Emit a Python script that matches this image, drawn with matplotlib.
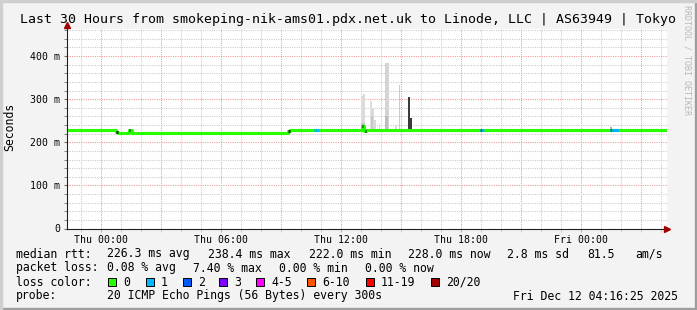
import matplotlib
matplotlib.use("Agg")
import matplotlib.pyplot as plt
from matplotlib.patches import Rectangle
import numpy as np

# time axis in hours relative to Thu 00:00
t_start = -1.675
t_end = 28.325

# median rtt (ms), step changes at these hours
median_hours = [-1.675, 0.75, 0.85, 1.4, 1.55, 9.35, 9.45, 13.05, 13.15, 13.25]
median_ms = [229, 224, 222, 228, 222, 226, 229, 238, 226, 229]

# short stretches where the median is drawn dark
dark_spans = [(0.75, 0.85), (1.4, 1.45), (9.35, 9.45), (13.05, 13.12), (13.2, 13.25)]

# loss colour stretches: (start, end, loss colour index)
loss_spans = [(10.65, 10.9, 1), (18.95, 19.05, 2), (19.05, 19.15, 1),
              (25.45, 25.55, 2), (25.55, 25.9, 1)]

# smoke: (start, end, top ms, shade)
smoke_start = [13.0, 13.1, 13.0, 13.45, 13.55, 13.65, 13.5, 13.9, 14.2, 14.2, 14.7, 14.9, 15.35, 15.35, 25.45]
smoke_end = [13.1, 13.2, 13.2, 13.55, 13.65, 13.75, 13.6, 13.95, 14.4, 14.35, 14.8, 14.96, 15.45, 15.55, 25.55]
smoke_top = [308, 312, 245, 295, 277, 252, 262, 243, 384, 262, 240, 332, 304, 257, 235]
smoke_shade = ['#dedede', '#dadada', '#c4c4c4', '#dedede', '#d8d8d8', '#d8d8d8', '#c8c8c8', '#d8d8d8',
               '#d4d4d4', '#bcbcbc', '#d8d8d8', '#cccccc', '#3a3a3a', '#3a3a3a', '#b0b0b0']
smoke_floor = 225

loss_labels = ['0', '1', '2', '3', '4-5', '6-10', '11-19', '20/20']
loss_colors = ['#26ff00', '#00b8ff', '#0059ff', '#7e00ff', '#ff00ff', '#ff5500', '#ff0000', '#a10000']

xtick_hours = [0, 6, 12, 18, 24]
xtick_labels = ['Thu 00:00', 'Thu 06:00', 'Thu 12:00', 'Thu 18:00', 'Fri 00:00']
ytick_ms = [0, 100, 200, 300, 400]
ytick_labels = ['0', '100 m', '200 m', '300 m', '400 m']

W, H = 697, 310
mono = 'DejaVu Sans Mono'
red_grid = '#f09898'
gray_grid = '#c8c8c8'

fig = plt.figure(figsize=(W / 100, H / 100), dpi=100, facecolor='#f3f3f3')

# 3d border
fig.patches.append(Rectangle((0, 0), 1, 2 / H, transform=fig.transFigure, color='#9e9e9e', zorder=0))
fig.patches.append(Rectangle((1 - 2 / W, 0), 2 / W, 1, transform=fig.transFigure, color='#9e9e9e', zorder=0))
fig.patches.append(Rectangle((0, 1 - 2 / H), 1, 2 / H, transform=fig.transFigure, color='#cfcfcf', zorder=0))
fig.patches.append(Rectangle((0, 0), 2 / W, 1, transform=fig.transFigure, color='#cfcfcf', zorder=0))

ax = fig.add_axes([67 / W, (H - 228.5) / H, 600 / W, 200 / H])
ax.set_facecolor('white')
ax.set_xlim(t_start, t_end)
ax.set_ylim(0, 464)

# grid
for h in np.arange(-1, 29, 1):
    c = red_grid if h % 3 == 0 else gray_grid
    ax.axvline(h, color=c, lw=0.75, ls=(0, (1, 1.2)), zorder=1)
for v in np.arange(20, 464, 20):
    c = red_grid if v % 100 == 0 else gray_grid
    ax.axhline(v, color=c, lw=0.75, ls=(0, (1, 1.2)), zorder=1)

# smoke
for s, e, top, sh in zip(smoke_start, smoke_end, smoke_top, smoke_shade):
    ax.fill_between([s, e], smoke_floor, top, color=sh, lw=0, zorder=2)

# median line
mt = median_hours + [t_end]
mv = median_ms + [median_ms[-1]]
ax.step(mt, mv, where='post', color=loss_colors[0], lw=2.2, zorder=3, solid_capstyle='butt')


def median_at(t):
    i = np.searchsorted(median_hours, t, side='right') - 1
    return median_ms[i]


for s, e in dark_spans:
    v = median_at(s + 1e-6)
    ax.plot([s, e], [v, v], color='#202020', lw=2.2, zorder=4, solid_capstyle='butt')

for s, e, k in loss_spans:
    v = median_at(s + 1e-6)
    ax.plot([s, e], [v, v], color=loss_colors[k], lw=2.2, zorder=4, solid_capstyle='butt')

# axes
for side in ['top', 'right']:
    ax.spines[side].set_visible(False)
ax.spines['left'].set_color('#202020')
ax.spines['bottom'].set_color('#202020')
ax.spines['left'].set_zorder(5)
ax.spines['bottom'].set_zorder(5)

ax.set_xticks(xtick_hours)
ax.set_xticklabels(xtick_labels, family=mono, fontsize=7.1)
ax.set_xticks(np.arange(-1, 29, 1), minor=True)
ax.set_yticks(ytick_ms)
ax.set_yticklabels(ytick_labels, family=mono, fontsize=7.1)
ax.set_yticks(np.arange(0, 464, 20), minor=True)
ax.tick_params(axis='x', which='major', length=2, color=red_grid, pad=2.5)
ax.tick_params(axis='x', which='minor', length=2, color=gray_grid)
ax.tick_params(axis='y', which='both', length=2, color='#707070', pad=3)

# arrows
ax.plot(1.0, 0, marker='>', color='#a10000', ms=5, transform=ax.transAxes, clip_on=False, zorder=6)
ax.plot(0, 1.02, marker='^', color='#a10000', ms=5, transform=ax.transAxes, clip_on=False, zorder=6)


def ftext(x, y, s, **kw):
    kw.setdefault('family', mono)
    kw.setdefault('fontsize', 8.3)
    kw.setdefault('va', 'center')
    fig.text(x / W, 1 - y / H, s, **kw)


ftext(348, 19, 'Last 30 Hours from smokeping-nik-ams01.pdx.net.uk to Linode, LLC | AS63949 | Tokyo',
      ha='center', fontsize=9.55)
ftext(10, 127, 'Seconds', rotation=90, ha='center')
ftext(687, 60, 'RRDTOOL / TOBI OETIKER', rotation=270, ha='center', fontsize=6, color='#b8b8b8')

# legend rows
ftext(16, 254, 'median rtt:')
ftext(107, 254, '226.3 ms avg')
ftext(208, 254, '238.4 ms max')
ftext(309, 254, '222.0 ms min')
ftext(408, 254, '228.0 ms now')
ftext(507, 254, '2.8 ms sd')
ftext(587, 254, '81.5')
ftext(635, 254, 'am/s')

ftext(16, 268, 'packet loss:')
ftext(107, 268, '0.08 % avg')
ftext(193, 268, '7.40 % max')
ftext(279, 268, '0.00 % min')
ftext(365, 268, '0.00 % now')

ftext(16, 282, 'loss color:')
box_x = [108, 146, 183, 219, 256, 307, 366, 431]
for bx, lab, col in zip(box_x, loss_labels, loss_colors):
    fig.patches.append(Rectangle((bx / W, 1 - 286 / H), 8 / W, 8 / H, transform=fig.transFigure,
                                 facecolor=col, edgecolor='black', lw=0.7))
    ftext(bx + 15, 282, lab)

ftext(16, 296, 'probe:')
ftext(107, 296, '20 ICMP Echo Pings (56 Bytes) every 300s')
ftext(513, 296, 'Fri Dec 12 04:16:25 2025')

fig.savefig('out.png', dpi=100, facecolor=fig.get_facecolor())
